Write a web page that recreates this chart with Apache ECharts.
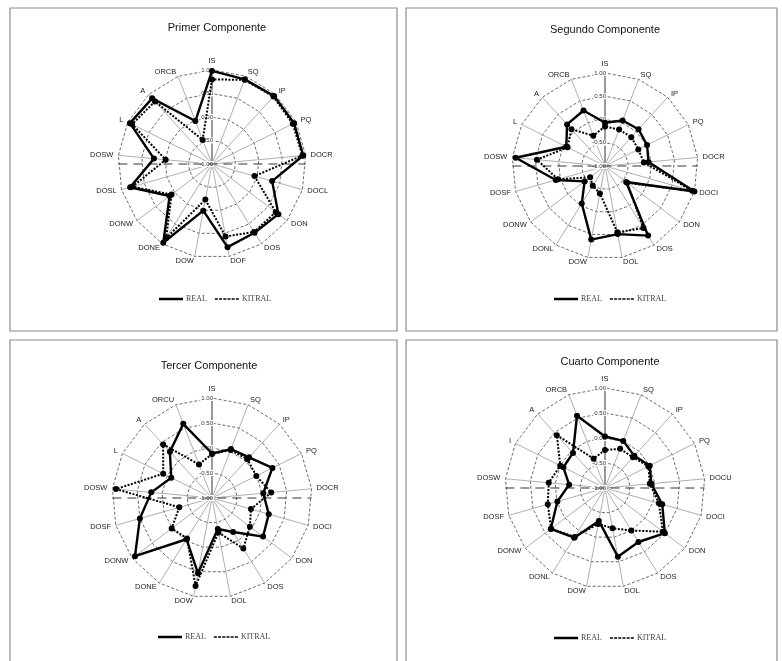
<!DOCTYPE html>
<html>
<head>
<meta charset="utf-8">
<script src="https://cdn.jsdelivr.net/npm/echarts@6/dist/echarts.min.js"></script>
<style>html,body{margin:0;padding:0;background:#fff;}#c{width:782px;height:661px;}</style>
</head>
<body>
<div id="c"></div>
<script>
// ---- data ----
const titles = ['Primer Componente', 'Segundo Componente', 'Tercer Componente', 'Cuarto Componente'];
const seriesNames = ['REAL', 'KITRAL'];
const tickValues = [-1, -0.5, 0, 0.5, 1];

const cats1 = ['IS','SQ','IP','PQ','DOCR','DOCL','DON','DOS','DOF','DOW','DONE','DONW','DOSL','DOSW','L','A','ORCB'];
const real1 = [0.98,0.93,0.96,0.95,0.95,0.33,0.77,0.72,0.80,0.01,0.97,0.13,0.81,0.24,0.95,0.89,-0.02];
const kitral1 = [0.80,0.92,0.94,0.92,0.93,-0.06,0.70,0.70,0.57,-0.23,0.85,0.08,0.76,-0.01,0.90,0.80,-0.45];

const cats2 = ['IS','SQ','IP','PQ','DOCR','DOCI','DON','DOS','DOL','DOW','DONL','DONW','DOSF','DOSW','L','A','ORCB'];
const real2 = [-0.07,0.05,0.07,0.01,-0.06,1.00,-0.43,0.76,0.49,0.61,-0.05,-0.45,0.10,0.93,-0.07,0.21,0.28];
const kitral2 = [-0.15,-0.16,-0.16,-0.20,-0.16,0.95,-0.40,0.57,0.45,-0.40,-0.50,-0.60,0.05,0.47,-0.10,0.07,-0.30];

const cats3 = ['IS','SQ','IP','PQ','DOCR','DOCI','DON','DOS','DOL','DOW','DONE','DONW','DOSF','DOSW','L','A','ORCU'];
const real3 = [-0.11,0.05,0.10,0.35,0.03,0.18,0.28,-0.20,-0.37,0.53,-0.03,0.93,0.50,0.22,-0.09,0.25,0.59];
const kitral3 = [-0.12,0.03,0.05,-0.01,0.19,-0.19,-0.05,0.19,-0.30,0.79,-0.05,0.01,-0.32,0.93,0.09,0.45,-0.28];

const cats4 = ['IS','SQ','IP','PQ','DOCU','DOCI','DON','DOS','DOL','DOW','DONL','DONW','DOSF','DOSW','I','A','ORCB'];
const real4 = [0.03,0.01,-0.13,0.00,-0.07,0.19,0.50,0.27,0.40,-0.33,0.17,0.36,-0.01,-0.28,-0.07,-0.05,0.55];
const kitral4 = [-0.24,-0.16,-0.17,-0.03,-0.10,0.12,0.45,0.00,-0.18,-0.27,0.15,0.35,0.19,0.13,0.00,0.43,-0.37];

// ---- layout (styles only) ----
const panels = [
  {cats: cats1, real: real1, kitral: kitral1, center: [212, 164], radius: 94, titleX: 212, titleY: 17, legendX: 154, legendY: 290, box: [10, 8, 387, 323]},
  {cats: cats2, real: real2, kitral: kitral2, center: [605, 166], radius: 93, titleX: 600, titleY: 19, legendX: 549, legendY: 290, box: [406, 8, 371, 323]},
  {cats: cats3, real: real3, kitral: kitral3, center: [212, 498], radius: 100, titleX: 204, titleY: 355, legendX: 153, legendY: 628, box: [10, 340, 387, 340]},
  {cats: cats4, real: real4, kitral: kitral4, center: [605, 488], radius: 100, titleX: 605, titleY: 351, legendX: 549, legendY: 629, box: [406, 340, 371, 340]}
];

// ECharts lays radar indicators counter-clockwise; the reference runs clockwise,
// so keep the first axis on top and list the rest in reverse.
const clockwise = arr => [arr[0]].concat(arr.slice(1).reverse());

const dashIcon = 'path://M0 0h2.6v1.5h-2.6zM3.6 0h2.6v1.5h-2.6zM7.2 0h2.6v1.5h-2.6zM10.8 0h2.6v1.5h-2.6zM14.4 0h2.6v1.5h-2.6zM18 0h2.6v1.5h-2.6z';

const minV = tickValues[0], maxV = tickValues[tickValues.length - 1];

const radar = panels.map(p => ({
  center: p.center,
  radius: p.radius,
  startAngle: 90,
  shape: 'polygon',
  splitNumber: tickValues.length - 1,
  nameGap: 5,
  axisName: {color: '#222', fontSize: 7.5, fontFamily: 'Liberation Sans'},
  splitLine: {lineStyle: {color: '#444', type: [3, 2], width: 0.8}},
  splitArea: {show: false},
  axisLine: {lineStyle: {color: '#9a9a9a', width: 0.8}},
  axisTick: {show: false},
  axisLabel: {show: false},
  indicator: clockwise(p.cats).map((n, i) => {
    const o = {name: n, min: minV, max: maxV};
    if (i === 0) {
      o.axisLabel = {show: true, fontSize: 6, color: '#333', fontFamily: 'Liberation Sans',
        margin: -2, align: 'right', formatter: v => Number(v).toFixed(2),
        backgroundColor: '#fff', padding: [0, 1]};
      o.axisLine = {lineStyle: {color: '#999', width: 2}};
    }
    return o;
  })
}));

const series = [];
panels.forEach((p, k) => {
  series.push({
    type: 'radar', radarIndex: k, name: 'REAL', z: 3,
    symbol: 'circle', symbolSize: 6,
    lineStyle: {color: '#000', width: 2.4, type: 'solid'},
    itemStyle: {color: '#000'},
    data: [{name: 'REAL', value: clockwise(p.real)}]
  });
  series.push({
    type: 'radar', radarIndex: k, name: 'KITRAL', z: 2,
    symbol: 'circle', symbolSize: 6,
    lineStyle: {color: '#000', width: 2, type: [2, 1.5]},
    itemStyle: {color: '#000'},
    data: [{name: 'KITRAL', value: clockwise(p.kitral)}]
  });
});

const title = panels.map((p, k) => ({
  text: titles[k], left: p.titleX, top: p.titleY, textAlign: 'center',
  textStyle: {fontSize: 11, fontWeight: 'normal', color: '#111', fontFamily: 'Liberation Sans'}
}));

const legend = panels.map(p => ({
  left: p.legendX, top: p.legendY, itemGap: 8, itemWidth: 24, itemHeight: 2.5,
  selectedMode: false,
  textStyle: {fontFamily: 'Liberation Serif', fontSize: 8, color: '#444', padding: [0, 0, 0, -2]},
  data: [
    {name: 'REAL', icon: 'rect', itemStyle: {color: '#000'}},
    {name: 'KITRAL', icon: dashIcon, itemStyle: {color: '#000'}}
  ]
}));

const graphic = [];
panels.forEach(p => {
  graphic.push({type: 'rect', shape: {x: p.box[0], y: p.box[1], width: p.box[2], height: p.box[3]},
    style: {fill: 'none', stroke: '#8c8c8c', lineWidth: 1.2}, z: -1, silent: true});
  const hw = p.radius * Math.sin(2 * Math.PI * 4 / p.cats.length);
  graphic.push({type: 'line', shape: {x1: p.center[0] - hw, y1: p.center[1], x2: p.center[0] + hw, y2: p.center[1]},
    style: {stroke: '#333', lineWidth: 1, lineDash: [9, 6]}, z: 1, silent: true});
});

const chart = echarts.init(document.getElementById('c'), null, {renderer: 'canvas'});
chart.setOption({
  backgroundColor: '#fff',
  animation: false,
  title, legend, radar, series, graphic
});
</script>
</body>
</html>
